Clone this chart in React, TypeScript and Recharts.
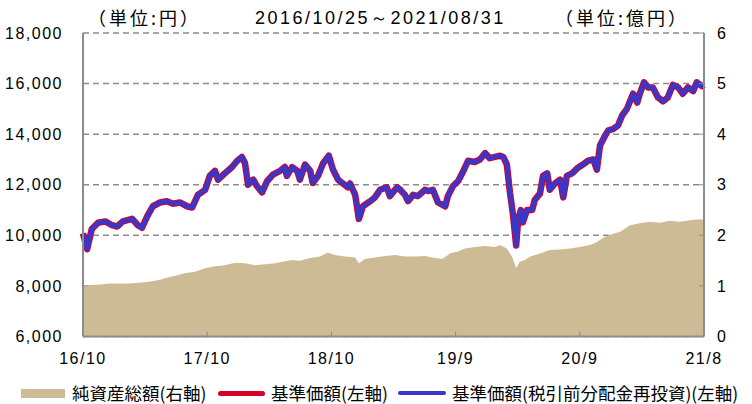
import { ComposedChart, Area, Line, XAxis, YAxis, CartesianGrid } from 'recharts'

// x positions are trading-day counts from 2016/10/25 (0) to 2021/08/31 (1200)
const PRICE_DAYS = [
  0, 8, 17, 29, 43, 56, 66, 77, 95, 106, 114, 124, 135, 149, 162, 174, 187, 201, 211, 222,
  236, 245, 255, 261, 274, 288, 298, 307, 313, 319, 329, 336, 346, 356, 367, 381, 390, 394, 404, 414,
  419, 429, 439, 444, 454, 464, 475, 483, 493, 502, 512, 516, 526, 533, 541, 555, 564, 574, 587, 593,
  607, 613, 622, 628, 638, 647, 661, 667, 676, 686, 700, 705, 715, 725, 734, 744, 757, 767, 777, 786,
  796, 806, 812, 819, 825, 831, 837, 841, 846, 850, 858, 868, 873, 883, 889, 897, 902, 912, 922, 928,
  935, 945, 955, 966, 976, 986, 993, 999, 1009, 1015, 1024, 1034, 1042, 1051, 1057, 1063, 1071, 1076, 1084, 1092,
  1101, 1111, 1121, 1130, 1140, 1150, 1159, 1169, 1179, 1186, 1196, 1200,
]
const PRICE = [
  10080, 9450, 10250, 10500, 10550, 10400, 10350, 10550, 10650, 10400, 10300, 10750, 11150, 11300, 11350, 11250, 11300, 11150, 11100, 11600,
  11800, 12350, 12550, 12200, 12450, 12700, 12950, 13100, 12850, 12000, 12200, 11950, 11700, 12150, 12400, 12550, 12700, 12350, 12700, 12550,
  12200, 12800, 12550, 12070, 12350, 12850, 13150, 12600, 12200, 12050, 11900, 12050, 11600, 10650, 11150, 11350, 11500, 11800, 11900, 11550,
  11900, 11800, 11600, 11350, 11600, 11550, 11800, 11750, 11800, 11300, 11150, 11550, 11950, 12150, 12500, 12950, 12900, 13000, 13250, 13050,
  13100, 13150, 13100, 12800, 11700, 10800, 9600, 10650, 11000, 10520, 11000, 11000, 11400, 11650, 12350, 12450, 11800, 12050, 12200, 11500,
  12350, 12450, 12650, 12800, 12950, 13000, 12600, 13550, 13950, 14150, 14200, 14350, 14750, 15000, 15300, 15600, 15250, 15600, 16050, 15850,
  15850, 15450, 15300, 15450, 15950, 15850, 15600, 15850, 15700, 16050, 15900, 15950,
]
// no distributions paid, so the reinvested series tracks the price
const PRICE_REINVEST = PRICE

const NAV_DAYS = [
  0, 14, 33, 52, 91, 129, 149, 158, 178, 197, 216, 236, 255, 274, 294, 313, 332, 352, 371, 390,
  404, 419, 439, 458, 473, 487, 506, 526, 533, 545, 564, 584, 603, 622, 642, 661, 680, 694, 709, 725,
  738, 757, 777, 796, 806, 819, 829, 837, 844, 854, 864, 883, 902, 922, 941, 960, 980, 993, 1009, 1018,
  1038, 1057, 1076, 1096, 1115, 1134, 1153, 1173, 1192, 1200,
]
const NAV = [
  0.98, 1.02, 1.03, 1.05, 1.05, 1.08, 1.12, 1.15, 1.2, 1.25, 1.28, 1.35, 1.39, 1.41, 1.46, 1.45, 1.41, 1.43, 1.45, 1.49,
  1.51, 1.5, 1.55, 1.58, 1.66, 1.61, 1.58, 1.56, 1.45, 1.53, 1.56, 1.59, 1.61, 1.58, 1.58, 1.59, 1.55, 1.53, 1.64, 1.68,
  1.74, 1.77, 1.79, 1.77, 1.81, 1.74, 1.58, 1.35, 1.48, 1.51, 1.58, 1.64, 1.71, 1.72, 1.74, 1.77, 1.81, 1.87, 1.97, 2.01,
  2.07, 2.2, 2.24, 2.27, 2.25, 2.29, 2.27, 2.3, 2.32, 2.31,
]

const X_TICKS = [0, 240, 480, 720, 960, 1200]
const X_LABELS = ['16/10', '17/10', '18/10', '19/9', '20/9', '21/8']
const LEFT_TICKS = [6000, 8000, 10000, 12000, 14000, 16000, 18000]
const RIGHT_TICKS = [0, 1, 2, 3, 4, 5, 6]

const TAN = '#cdbb95'
const RED = '#d4002a'
const BLUE = '#3a36c8'
const GRAY = '#8c8c8c'
const NUM_FONT = 'Arial, "Liberation Sans", sans-serif'
const JP_FONT = '"Noto Sans CJK JP", sans-serif'

const priceData = PRICE_DAYS.map((d, i) => ({ d, v: PRICE[i] }))
const reinvestData = PRICE_DAYS.map((d, i) => ({ d, v: PRICE_REINVEST[i] }))
const navData = NAV_DAYS.map((d, i) => ({ d, v: NAV[i] }))

const tickStyle = { fontSize: 16, fill: '#000', fontFamily: NUM_FONT, letterSpacing: 1.5 }

function LegendRow() {
  const item = {
    display: 'flex',
    alignItems: 'center',
    position: 'absolute' as const,
    top: 383,
    height: 20,
    lineHeight: '20px',
    fontSize: 17.5,
    fontFamily: JP_FONT,
    color: '#000',
    whiteSpace: 'nowrap' as const,
  }
  return (
    <>
      <div style={{ ...item, left: 21 }}>
        <span style={{ display: 'inline-block', width: 44, height: 9, background: TAN, marginRight: 7 }} />
        純資産総額(右軸)
      </div>
      <div style={{ ...item, left: 218 }}>
        <span style={{ display: 'inline-block', width: 47, height: 5, borderRadius: 3, background: RED, marginRight: 6 }} />
        基準価額(左軸)
      </div>
      <div style={{ ...item, left: 398 }}>
        <span style={{ display: 'inline-block', width: 48, height: 4, borderRadius: 2, background: BLUE, marginRight: 6 }} />
        基準価額(税引前分配金再投資)(左軸)
      </div>
    </>
  )
}

export default function App() {
  const head = {
    position: 'absolute' as const,
    top: 4,
    fontSize: 18,
    lineHeight: '26px',
    fontFamily: JP_FONT,
    color: '#000',
    whiteSpace: 'nowrap' as const,
    letterSpacing: 3,
  }
  return (
    <div style={{ position: 'absolute', left: 0, top: 0, width: 752, height: 404, background: '#fff', overflow: 'hidden' }}>
      <div style={{ ...head, left: 88 }}>（単位:円）</div>
      <div style={{ ...head, left: 255, top: 5, fontFamily: NUM_FONT, letterSpacing: 2.5 }}>2016/10/25～2021/08/31</div>
      <div style={{ ...head, left: 555 }}>（単位:億円）</div>
      <ComposedChart width={752} height={404} margin={{ top: 33, right: 0, bottom: 37, left: 0 }}>
        <CartesianGrid vertical={false} yAxisId="left" stroke={GRAY} strokeWidth={1.5} strokeDasharray="6 4" />
        <XAxis
          dataKey="d"
          type="number"
          domain={[0, 1200]}
          ticks={X_TICKS}
          tickFormatter={(v) => X_LABELS[X_TICKS.indexOf(v)] ?? ''}
          height={30.5}
          tick={tickStyle}
          tickSize={-5}
          tickMargin={21}
          stroke={GRAY}
          axisLine={{ stroke: GRAY, strokeWidth: 2 }}
          tickLine={{ stroke: GRAY }}
        />
        <YAxis
          yAxisId="left"
          domain={[6000, 18000]}
          ticks={LEFT_TICKS}
          width={83}
          tick={tickStyle}
          tickFormatter={(v) => v.toLocaleString('en-US')}
          tickSize={0}
          tickMargin={20}
          tickLine={false}
          axisLine={{ stroke: GRAY, strokeWidth: 2 }}
        />
        <YAxis
          yAxisId="right"
          orientation="right"
          domain={[0, 6]}
          ticks={RIGHT_TICKS}
          width={48}
          tick={tickStyle}
          tickSize={-5}
          tickMargin={18}
          tickLine={{ stroke: GRAY }}
          axisLine={{ stroke: GRAY, strokeWidth: 2 }}
        />
        <Area
          yAxisId="right"
          data={navData}
          dataKey="v"
          type="linear"
          fill={TAN}
          fillOpacity={1}
          stroke="none"
          isAnimationActive={false}
        />
        <Line
          yAxisId="left"
          data={priceData}
          dataKey="v"
          type="linear"
          stroke={RED}
          strokeWidth={6.5}
          dot={false}
          strokeLinejoin="round"
          isAnimationActive={false}
        />
        <Line
          yAxisId="left"
          data={reinvestData}
          dataKey="v"
          type="linear"
          stroke={BLUE}
          strokeWidth={4.5}
          dot={false}
          strokeLinejoin="round"
          isAnimationActive={false}
        />
      </ComposedChart>
      <LegendRow />
    </div>
  )
}
